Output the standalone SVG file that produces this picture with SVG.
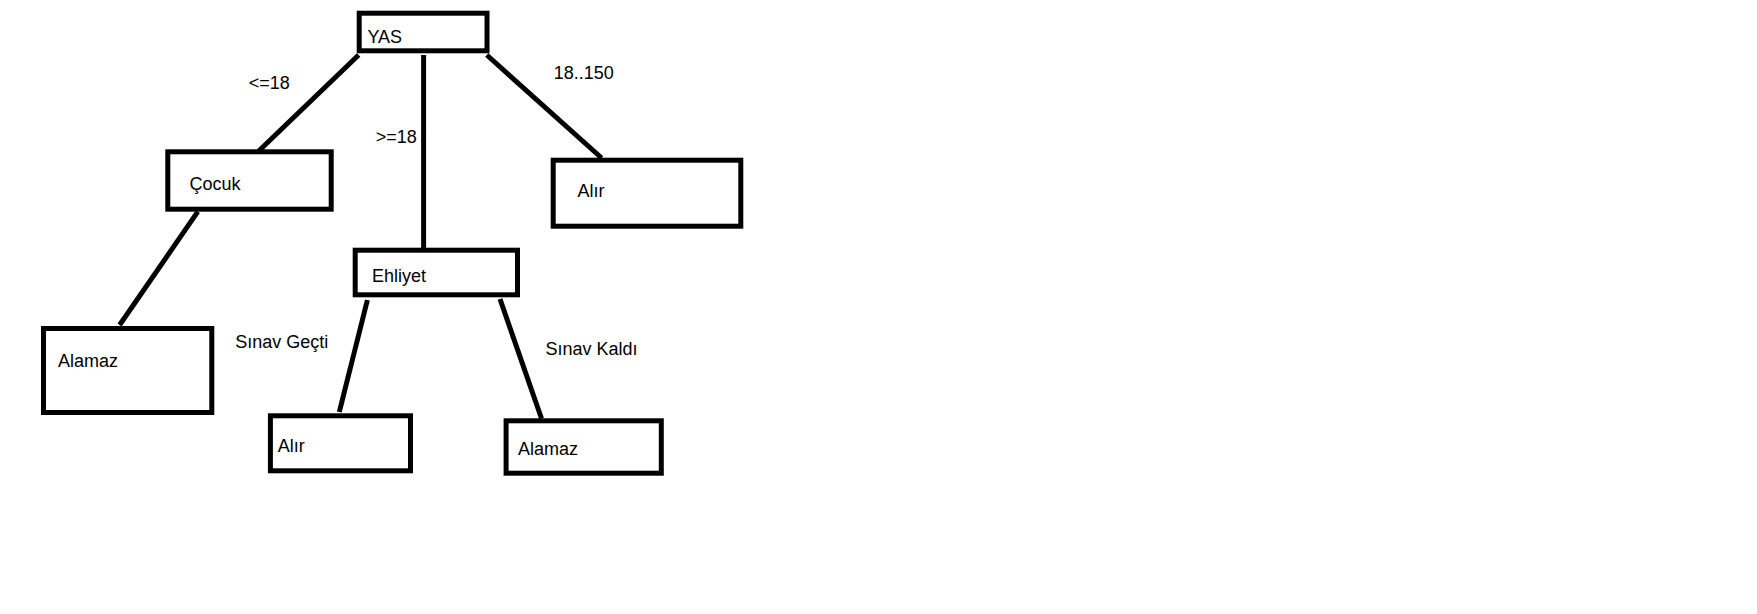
<svg xmlns="http://www.w3.org/2000/svg" width="1757" height="614" viewBox="0 0 1757 614">
<style>
.box{fill:#fff;stroke:#000;stroke-width:5}
.edge{stroke:#000;stroke-width:5;fill:none}
text{font-family:"Liberation Sans",Arial,sans-serif;font-size:18px;fill:#000}
</style>
<rect x="0" y="0" width="1757" height="614" fill="#fff"/>
<g id="connectors">
<line class="edge" x1="358.6" y1="55" x2="256.4" y2="153.3"/>
<line class="edge" x1="423.6" y1="55" x2="423.6" y2="248"/>
<line class="edge" x1="486.8" y1="55" x2="601.6" y2="158"/>
<line class="edge" x1="197.8" y1="211.7" x2="119.6" y2="325"/>
<line class="edge" x1="367.4" y1="300" x2="339.3" y2="412"/>
<line class="edge" x1="500" y1="299" x2="541.5" y2="418.5"/>
<text x="248.7" y="89.3">&lt;=18</text>
<text x="375.8" y="142.7">&gt;=18</text>
<text x="553.7" y="79">18..150</text>
<text x="235.3" y="348.3">Sınav Geçti</text>
<text x="545.5" y="355">Sınav Kaldı</text>
</g>
<g id="yas">
<rect class="box" x="359.2" y="13.2" width="127.8" height="37.6"/>
<text x="367.4" y="43.3">YAS</text>
</g>
<g id="cocuk">
<rect class="box" x="167.8" y="151.8" width="163.4" height="57.4"/>
<text x="189.4" y="190">Çocuk</text>
</g>
<g id="alir1">
<rect class="box" x="553.2" y="160.2" width="187.6" height="66"/>
<text x="577.5" y="196.7">Alır</text>
</g>
<g id="alamaz1">
<rect class="box" x="43.5" y="328.5" width="168.3" height="84"/>
<text x="58" y="366.7">Alamaz</text>
</g>
<g id="ehliyet">
<rect class="box" x="355.2" y="250.2" width="162.3" height="44.6"/>
<text x="371.9" y="281.7">Ehliyet</text>
</g>
<g id="alir2">
<rect class="box" x="270.4" y="415.8" width="140.1" height="55"/>
<text x="277.7" y="452.3">Alır</text>
</g>
<g id="alamaz2">
<rect class="box" x="506.1" y="420.8" width="155.2" height="52.4"/>
<text x="517.9" y="455">Alamaz</text>
</g>
</svg>
